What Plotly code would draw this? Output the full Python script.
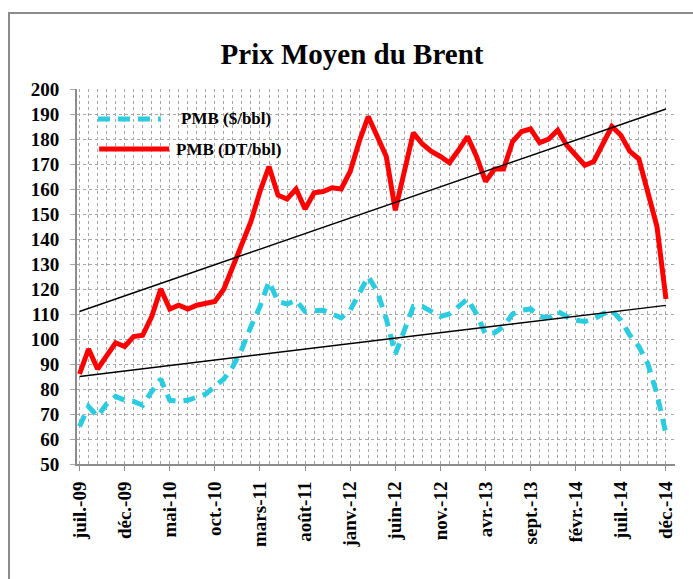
import numpy as np
import plotly.graph_objects as go

# mois de juil.-09 à déc.-14 (index 0..65)
months = list(range(66))
tick_idx = list(range(0, 66, 5))
tick_labels = ["juil.-09", "déc.-09", "mai-10", "oct.-10", "mars-11", "août-11",
               "janv.-12", "juin-12", "nov.-12", "avr.-13", "sept.-13", "févr.-14",
               "juil.-14", "déc.-14"]

pmb_dt = [86, 96, 88, 93.5, 98.5, 97, 101, 101.5, 109, 120,
          112, 113.5, 112, 113.5, 114, 115, 120, 129, 138, 147,
          159, 169, 157.5, 156, 160, 152, 158.5, 159, 160.5, 160,
          167, 179, 189, 181.5, 173, 151.5, 166, 182.5, 178, 175,
          173, 170.5, 175.5, 181, 173, 163, 168, 168, 179, 183,
          184, 178.5, 180, 183.5, 177.5, 173.5, 169.5, 171, 178, 185,
          181.5, 175, 172, 158, 145, 116]

pmb_usd = [65, 73, 69, 74, 77, 75.5, 75, 73.5, 79, 84,
           75.5, 75, 75.5, 77, 78, 81, 84, 89, 96, 105,
           113, 123, 115, 114, 115.5, 111, 111.5, 111.5, 110, 108.5,
           111.5, 118, 125, 119, 108, 94, 104, 113, 113, 111,
           109, 110, 113, 116, 110, 102, 102.5, 105, 110, 111.5,
           112, 109, 108.5, 111, 109, 107.5, 107, 108, 110, 111.5,
           107.5, 101.5, 97, 90, 78, 62]

serif = "Liberation Serif"
cyan = "#2BCCDF"
red = "#FF0000"
gray = "#8C8C8C"

x = np.array(months)
# courbes de tendance linéaires
trend_dt = np.polyval(np.polyfit(x, pmb_dt, 1), x)
trend_usd = np.polyval(np.polyfit(x, pmb_usd, 1), x)

fig = go.Figure()

fig.add_trace(go.Scatter(x=months, y=pmb_usd, mode="lines", name="PMB ($/bbl)",
                         line=dict(color=cyan, width=5, dash="12px,8px")))
fig.add_trace(go.Scatter(x=months, y=pmb_dt, mode="lines", name="PMB (DT/bbl)",
                         line=dict(color=red, width=5)))
fig.add_trace(go.Scatter(x=months, y=trend_dt, mode="lines",
                         line=dict(color="black", width=1.5)))
fig.add_trace(go.Scatter(x=months, y=trend_usd, mode="lines",
                         line=dict(color="black", width=1.5)))

# cadre autour du graphique
fig.add_shape(type="rect", xref="paper", yref="paper",
              x0=-0.1137, x1=1.05, y0=-0.35, y1=1.2027,
              line=dict(color=gray, width=2), fillcolor="rgba(0,0,0,0)")

# légende dessinée à la main (échantillons longs comme dans Excel)
fig.add_shape(type="line", xref="paper", yref="paper", x0=0.035, x1=0.140, y0=0.92, y1=0.92,
              line=dict(color=cyan, width=5, dash="12px,8px"))
fig.add_shape(type="line", xref="paper", yref="paper", x0=0.037, x1=0.154, y0=0.84, y1=0.84,
              line=dict(color=red, width=5))
fig.add_annotation(xref="paper", yref="paper", x=0.170, y=0.92, xanchor="left", yanchor="middle",
                   text="<b>PMB ($/bbl)</b>", showarrow=False,
                   font=dict(family=serif, size=17, color="black"))
fig.add_annotation(xref="paper", yref="paper", x=0.162, y=0.84, xanchor="left", yanchor="middle",
                   text="<b>PMB (DT/bbl)</b>", showarrow=False,
                   font=dict(family=serif, size=17, color="black"))

fig.update_layout(
    width=693, height=579,
    margin=dict(l=77, r=18, t=89, b=115),
    paper_bgcolor="white", plot_bgcolor="white",
    showlegend=False,
    title=dict(text="<b>Prix Moyen du Brent</b>", x=352 / 693, xanchor="center",
               y=1 - 54 / 579, yanchor="middle",
               font=dict(family=serif, size=29, color="black")),
    font=dict(family=serif, color="black"),
    xaxis=dict(range=[-0.28, 66.0], tickvals=tick_idx,
               ticktext=["<b>%s</b>" % t for t in tick_labels],
               tickangle=-90, tickfont=dict(family=serif, size=19),
               ticks="outside", ticklen=5, tickcolor=gray, ticklabelstandoff=3,
               showline=True, linecolor=gray, linewidth=2,
               showgrid=True, gridcolor="#A6A6A6", griddash="dot", gridwidth=1,
               minor=dict(dtick=1, tick0=0, showgrid=True, gridcolor="#A6A6A6",
                          griddash="dot", gridwidth=1),
               zeroline=False),
    yaxis=dict(range=[50, 200],
               tickvals=list(range(50, 201, 10)),
               ticktext=["<b>%d</b>" % v for v in range(50, 201, 10)],
               tickfont=dict(family=serif, size=19),
               ticks="outside", ticklen=5, tickcolor="#A6A6A6", ticklabelstandoff=7,
               showline=True, linecolor=gray, linewidth=2,
               showgrid=True, gridcolor="#A6A6A6", griddash="dot", gridwidth=1,
               zeroline=False),
)

fig.write_html("out.html", config={"displayModeBar": False},
               post_script="document.body.style.margin='0';")
